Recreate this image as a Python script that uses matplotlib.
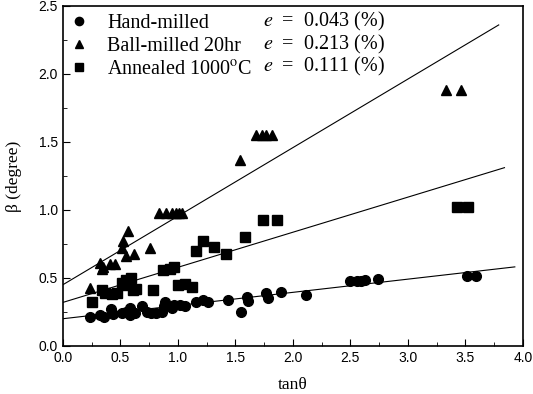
import matplotlib.pyplot as plt
from matplotlib.ticker import MultipleLocator

# Hand-milled (circles)
hand_x = [0.24, 0.32, 0.36, 0.42, 0.44, 0.51, 0.55, 0.58, 0.58, 0.63, 0.69, 0.73, 0.77,
          0.81, 0.86, 0.88, 0.89, 0.95, 0.97, 1.02, 1.06, 1.16, 1.22, 1.26, 1.44, 1.55,
          1.60, 1.61, 1.77, 1.78, 1.90, 2.11, 2.50, 2.56, 2.59, 2.63, 2.74, 3.51, 3.59]
hand_y = [0.215, 0.23, 0.215, 0.27, 0.235, 0.24, 0.25, 0.28, 0.23, 0.245, 0.29, 0.25, 0.245,
          0.24, 0.25, 0.29, 0.325, 0.28, 0.30, 0.30, 0.29, 0.32, 0.34, 0.32, 0.34, 0.25,
          0.36, 0.33, 0.39, 0.35, 0.40, 0.375, 0.48, 0.48, 0.48, 0.485, 0.49, 0.515, 0.515]

# Ball-milled 20hr (triangles)
ball_x = [0.24, 0.32, 0.34, 0.35, 0.41, 0.45, 0.51, 0.52, 0.55, 0.57, 0.62, 0.76,
          0.84, 0.90, 0.95, 0.98, 1.01, 1.04, 1.54, 1.68, 1.73, 1.77, 1.82, 3.33, 3.46]
ball_y = [0.425, 0.61, 0.565, 0.58, 0.60, 0.60, 0.72, 0.77, 0.66, 0.845, 0.675, 0.72,
          0.98, 0.98, 0.98, 0.98, 0.98, 0.98, 1.37, 1.55, 1.55, 1.55, 1.55, 1.88, 1.88]

# Annealed 1000C (squares)
ann_x = [0.25, 0.34, 0.37, 0.43, 0.47, 0.51, 0.55, 0.59, 0.55, 0.61, 0.64, 0.78, 0.87,
         0.93, 0.97, 1.00, 1.06, 1.12, 1.16, 1.22, 1.31, 1.42, 1.58, 1.74, 1.86, 3.43, 3.52]
ann_y = [0.325, 0.41, 0.39, 0.38, 0.39, 0.465, 0.485, 0.50, 0.45, 0.41, 0.415, 0.41, 0.56,
         0.565, 0.58, 0.45, 0.455, 0.435, 0.70, 0.77, 0.725, 0.675, 0.80, 0.925, 0.925, 1.02, 1.02]

# linear fits: (intercept, slope, x end)
fits = [(0.20, 0.097, 3.93), (0.45, 0.504, 3.79), (0.32, 0.258, 3.84)]
labels = ["Hand-milled", "Ball-milled 20hr", r"Annealed 1000$^{\rm o}$C"]
strains = ["0.043", "0.213", "0.111"]

plt.rcParams["mathtext.fontset"] = "stix"
serif = "Liberation Serif"
sans = "Liberation Sans"

fig = plt.figure(figsize=(5.33, 3.94), dpi=100)
ax = fig.add_axes([0.118, 0.122, 0.863, 0.863])

h1, = ax.plot(hand_x, hand_y, "o", color="black", ms=7, ls="none")
h2, = ax.plot(ball_x, ball_y, "^", color="black", ms=7.5, ls="none")
h3, = ax.plot(ann_x, ann_y, "s", color="black", ms=6.5, ls="none")

for b, m, xe in fits:
    ax.plot([0, xe], [b, b + m * xe], color="black", lw=0.8)

ax.set_xlim(0, 4)
ax.set_ylim(0, 2.5)
ax.xaxis.set_major_locator(MultipleLocator(0.5))
ax.xaxis.set_minor_locator(MultipleLocator(0.25))
ax.yaxis.set_major_locator(MultipleLocator(0.5))
ax.yaxis.set_minor_locator(MultipleLocator(0.25))
ax.tick_params(which="both", direction="in", top=False, right=False)
ax.tick_params(which="major", length=5, labelsize=10)
ax.tick_params(which="minor", length=3)
for lab in ax.get_xticklabels() + ax.get_yticklabels():
    lab.set_fontfamily(sans)
for s in ax.spines.values():
    s.set_linewidth(1.2)

ax.set_xlabel("tanθ", fontfamily=serif, fontsize=12.5, labelpad=9)
ax.set_ylabel("β (degree)", fontfamily=serif, fontsize=12.5, labelpad=12)

leg = ax.legend([h1, h2, h3], labels, loc="upper left", frameon=False,
                prop={"family": serif, "size": 14.5}, handletextpad=1.0,
                borderaxespad=0.15, labelspacing=0.2, handlelength=0.8,
                borderpad=0.25, markerscale=0.85)

for i, s in enumerate(strains):
    ax.text(0.436, 0.953 - i * 0.066, r"$e$  =  " + s + " (%)", transform=ax.transAxes,
            fontfamily=serif, fontsize=14.5, va="center")

fig.savefig("out.png", dpi=100)
